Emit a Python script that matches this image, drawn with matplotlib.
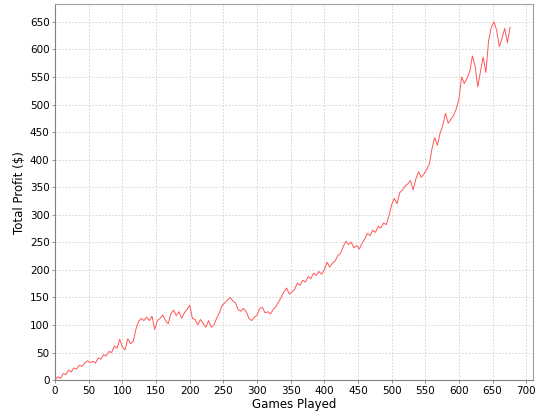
import numpy as np
import matplotlib
matplotlib.use('Agg')
import matplotlib.pyplot as plt

# cumulative profit, every 4 games
games = np.arange(0, 680, 4)
profit = [
    0, 6, 3, 12, 10, 18, 15, 22, 20, 27, 25, 31, 35, 32, 34, 31, 40, 38, 46, 44,
    52, 50, 62, 58, 74, 60, 55, 75, 66, 70, 92, 106, 112, 108, 114, 108, 116, 92, 108, 112,
    118, 108, 102, 120, 127, 117, 124, 112, 122, 128, 136, 112, 110, 100, 110, 103, 96, 108, 96, 100,
    112, 122, 135, 140, 145, 150, 144, 140, 128, 125, 130, 124, 112, 108, 114, 118, 130, 132, 122, 124,
    120, 128, 133, 142, 150, 160, 167, 156, 160, 165, 176, 172, 181, 178, 188, 184, 194, 190, 197, 192,
    200, 214, 205, 212, 216, 226, 230, 242, 252, 246, 250, 240, 244, 238, 248, 256, 266, 262, 272, 268,
    279, 276, 285, 282, 298, 318, 330, 320, 340, 345, 352, 356, 362, 345, 365, 378, 368, 374, 382, 392,
    420, 440, 426, 448, 462, 484, 466, 473, 480, 492, 510, 550, 538, 548, 560, 588, 570, 532, 560, 586,
    558, 615, 640, 650, 635, 605, 620, 638, 612, 640,
]

fig = plt.figure(figsize=(5.4, 4.2), dpi=100)
ax = fig.add_axes([0.102, 0.095, 0.885, 0.895])
ax.plot(games, profit, color='#ff5555', lw=0.7)

ax.set_xlim(0, 710)
ax.set_ylim(0, 682)
ax.set_xticks(np.arange(0, 701, 50))
ax.set_yticks(np.arange(0, 651, 50))
ax.grid(True, color='#cfcfcf', lw=0.6, ls=(0, (2, 2)))
ax.set_axisbelow(True)
for s in ax.spines.values():
    s.set_color('#a0a0a0')
    s.set_linewidth(0.8)
ax.spines['left'].set_color('#808080')
ax.spines['bottom'].set_color('#808080')
ax.tick_params(labelsize=7.5, length=2, width=0.6, color='#808080', pad=2)
ax.set_xlabel('Games Played', fontsize=8.5, labelpad=2)
ax.set_ylabel('Total Profit ($)', fontsize=8.5, labelpad=3)

fig.savefig('out.png', dpi=100)
